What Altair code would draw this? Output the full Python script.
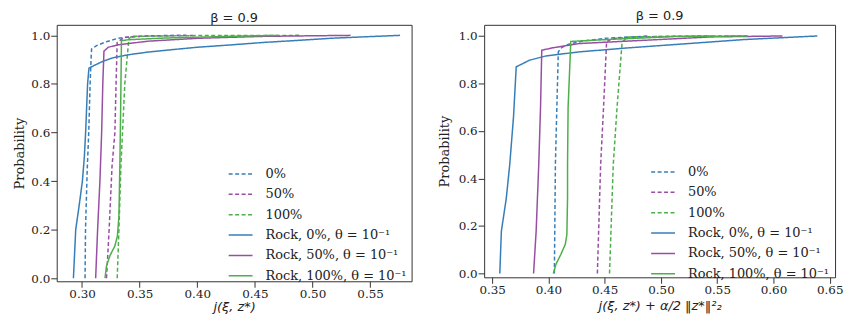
import altair as alt
import pandas as pd

# ---------------- data ----------------
labels = ["0%", "50%", "100%",
          "Rock, 0%, θ = 10⁻¹", "Rock, 50%, θ = 10⁻¹", "Rock, 100%, θ = 10⁻¹"]
colors = ["#377eb8", "#984ea3", "#4daf4a", "#377eb8", "#984ea3", "#4daf4a"]
dashes = [[4, 2.5], [4, 2.5], [4, 2.5], [1, 0], [1, 0], [1, 0]]

# left panel: j(xi, z*)
L_dash0_x = [0.3026, 0.303, 0.3045, 0.3058, 0.307, 0.308, 0.3083, 0.3126, 0.3212, 0.3313, 0.345, 0.37, 0.39]
L_dash0_y = [0, 0.2, 0.45, 0.6, 0.8, 0.924, 0.944, 0.958, 0.974, 0.988, 0.995, 0.999, 1.0]
L_dash50_x = [0.3212, 0.3235, 0.326, 0.3285, 0.3295, 0.3305, 0.337, 0.36, 0.398]
L_dash50_y = [0, 0.2, 0.46, 0.6, 0.8, 0.971, 0.992, 0.998, 1.0]
L_dash100_x = [0.3305, 0.332, 0.3337, 0.3371, 0.3406, 0.3428, 0.40, 0.49]
L_dash100_y = [0, 0.2, 0.46, 0.8, 0.985, 0.996, 0.999, 1.0]
L_rock0_x = [0.2925, 0.2935, 0.2945, 0.2975, 0.3003, 0.302, 0.3031, 0.3048, 0.306, 0.310, 0.318,
             0.327, 0.340, 0.357, 0.380, 0.400, 0.430, 0.458, 0.490, 0.516, 0.545, 0.576]
L_rock0_y = [0, 0.1, 0.2, 0.3, 0.4, 0.5, 0.6, 0.8, 0.865, 0.875, 0.893,
             0.908, 0.920, 0.931, 0.942, 0.951, 0.961, 0.971, 0.980, 0.988, 0.994, 1.0]
L_rock50_x = [0.3118, 0.3135, 0.3155, 0.317, 0.318, 0.319, 0.3227, 0.3313, 0.3572, 0.4006, 0.458, 0.533]
L_rock50_y = [0, 0.2, 0.4, 0.6, 0.8, 0.935, 0.951, 0.961, 0.976, 0.988, 0.996, 1.0]
L_rock100_x = [0.3199, 0.3212, 0.3242, 0.3285, 0.3307, 0.332, 0.3328, 0.3335, 0.3342, 0.340, 0.3717, 0.4292, 0.47]
L_rock100_y = [0, 0.05, 0.093, 0.133, 0.174, 0.256, 0.46, 0.7, 0.978, 0.982, 0.989, 0.996, 1.0]

# right panel: j(xi, z*) + alpha/2 ||z*||^2
R_dash0_x = [0.4053, 0.4062, 0.4075, 0.4088, 0.412, 0.418, 0.43, 0.45, 0.49]
R_dash0_y = [0, 0.457, 0.7, 0.933, 0.952, 0.965, 0.978, 0.99, 1.0]
R_dash50_x = [0.4435, 0.4464, 0.449, 0.4517, 0.4567, 0.50, 0.545]
R_dash50_y = [0, 0.457, 0.7, 0.975, 0.989, 0.998, 1.0]
R_dash100_x = [0.4543, 0.4576, 0.461, 0.4655, 0.4714, 0.52, 0.577]
R_dash100_y = [0, 0.457, 0.7, 0.975, 0.996, 0.999, 1.0]
R_rock0_x = [0.3568, 0.3582, 0.3626, 0.3656, 0.369, 0.3714, 0.3832, 0.3979, 0.4273, 0.4714, 0.5155, 0.5743, 0.639]
R_rock0_y = [0, 0.178, 0.318, 0.457, 0.66, 0.87, 0.898, 0.916, 0.933, 0.95, 0.965, 0.985, 1.0]
R_rock50_x = [0.3868, 0.3891, 0.3914, 0.393, 0.3941, 0.4038, 0.4273, 0.4861, 0.5449, 0.608]
R_rock50_y = [0, 0.178, 0.457, 0.7, 0.94, 0.95, 0.968, 0.982, 0.996, 1.0]
R_rock100_x = [0.4044, 0.4067, 0.4111, 0.415, 0.4164, 0.417, 0.417, 0.4175, 0.4199, 0.4567, 0.5155, 0.577]
R_rock100_y = [0, 0.039, 0.081, 0.123, 0.164, 0.318, 0.457, 0.7, 0.977, 0.986, 0.998, 1.0]

left_ticks = [0.30, 0.35, 0.40, 0.45, 0.50, 0.55]
right_ticks = [0.35, 0.40, 0.45, 0.50, 0.55, 0.60, 0.65]
y_ticks = [0.0, 0.2, 0.4, 0.6, 0.8, 1.0]


def frame(series):
    rows = []
    for lab, (xs, ys) in zip(labels, series):
        for i, (a, b) in enumerate(zip(xs, ys)):
            rows.append({"x": a, "y": b, "series": lab, "i": i})
    return pd.DataFrame(rows)


left_df = frame([(L_dash0_x, L_dash0_y), (L_dash50_x, L_dash50_y), (L_dash100_x, L_dash100_y),
                 (L_rock0_x, L_rock0_y), (L_rock50_x, L_rock50_y), (L_rock100_x, L_rock100_y)])
right_df = frame([(R_dash0_x, R_dash0_y), (R_dash50_x, R_dash50_y), (R_dash100_x, R_dash100_y),
                  (R_rock0_x, R_rock0_y), (R_rock50_x, R_rock50_y), (R_rock100_x, R_rock100_y)])

SERIF = "DejaVu Serif"


def panel(df, xdomain, ydomain, xticks, xtitle, w, h, lx, ly, title_offset, ytitle_pad, xtitle_pad):
    legend = alt.Legend(
        title=None, orient="none", legendX=lx, legendY=ly,
        symbolType="stroke", symbolSize=576, symbolStrokeWidth=1.5,
        labelFont=SERIF, labelFontSize=13, labelColor="#222",
        labelOffset=12, rowPadding=0.5, padding=0,
    )
    return alt.Chart(df).mark_line(strokeWidth=1.5, clip=True).encode(
        x=alt.X("x:Q", scale=alt.Scale(domain=xdomain, nice=False, zero=False),
                axis=alt.Axis(values=xticks, format=".2f", title=xtitle,
                              titleFont="DejaVu Sans", titleFontStyle="italic",
                              titleFontWeight="normal", titleFontSize=13,
                              labelPadding=1, titlePadding=xtitle_pad)),
        y=alt.Y("y:Q", scale=alt.Scale(domain=ydomain, nice=False, zero=False),
                axis=alt.Axis(values=y_ticks, format=".1f", title="Probability",
                              titleFont=SERIF, titleFontWeight="normal", titleFontSize=13,
                              labelPadding=1, titlePadding=ytitle_pad)),
        color=alt.Color("series:N", scale=alt.Scale(domain=labels, range=colors), legend=legend),
        strokeDash=alt.StrokeDash("series:N", scale=alt.Scale(domain=labels, range=dashes), legend=legend),
        order="i:Q",
    ).properties(
        width=w, height=h,
        title=alt.TitleParams("β = 0.9", font="DejaVu Sans", fontSize=13, fontWeight="normal",
                              color="#222", offset=title_offset),
    )


left = panel(left_df, [0.278, 0.586], [-0.0127, 1.0434], left_ticks, "j(ξ, z*)",
             357, 258, 172, 137, 0, 4, 1)
right = panel(right_df, [0.3429, 0.6547], [-0.0159, 1.0469], right_ticks, "j(ξ, z*) + α/2 ‖z*‖²₂",
              353, 254, 167, 135, 2, 7, 4)

chart = alt.hconcat(left, right, spacing=25).resolve_scale(
    color="independent", strokeDash="independent"
).properties(
    padding={"left": 5, "top": 0, "right": 0, "bottom": 0}
).configure_view(
    stroke="#333", strokeWidth=1
).configure_axis(
    grid=False, domain=False, ticks=True, tickSize=6, tickWidth=1, tickColor="#333",
    labelFont=SERIF, labelFontSize=12, labelColor="#222",
    titleColor="#222",
)

chart.save("out.html", embed_options={"renderer": "svg", "actions": False})
